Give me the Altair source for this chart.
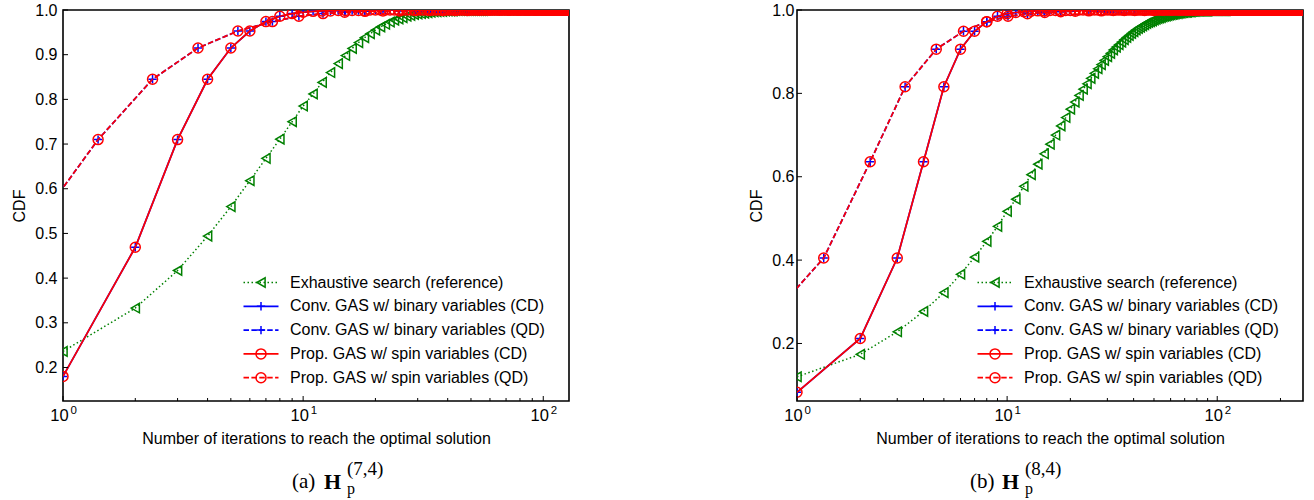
import altair as alt
import pandas as pd

SANS = "Liberation Sans"
SERIF = "Liberation Serif"
GREEN, BLUE, RED = "#008000", "#0000ff", "#ff0000"
PLUS = "M-1,0L1,0M0,-1L0,1"

X_TITLE = "Number of iterations to reach the optimal solution"
LEGEND_LABELS = [
    "Exhaustive search (reference)",
    "Conv. GAS w/ binary variables (CD)",
    "Conv. GAS w/ binary variables (QD)",
    "Prop. GAS w/ spin variables (CD)",
    "Prop. GAS w/ spin variables (QD)",
]

# ---------------- panel (a): 2^7 = 128 candidates ----------------
A_ITER = list(range(1, 129))
A_EXH = [
    0.236, 0.333, 0.417, 0.494, 0.560, 0.618, 0.668, 0.711, 0.750, 0.785, 0.812, 0.838, 0.860, 0.880, 0.898, 0.914,
    0.927, 0.938, 0.947, 0.955, 0.962, 0.968, 0.973, 0.977, 0.980, 0.983, 0.986, 0.988, 0.990, 0.991, 0.992, 0.993,
    0.994, 0.995, 0.996, 0.996, 0.997, 0.997, 0.998, 0.998, 0.998, 0.998, 0.999, 0.999, 0.999, 0.999, 0.999, 0.999,
    0.999, 0.999, 0.999, 0.999, 0.999, 0.999, 0.999, 0.999, 1.0, 1.0, 1.0, 1.0, 1.0, 1.0, 1.0, 1.0,
    1.0, 1.0, 1.0, 1.0, 1.0, 1.0, 1.0, 1.0, 1.0, 1.0, 1.0, 1.0, 1.0, 1.0, 1.0, 1.0,
    1.0, 1.0, 1.0, 1.0, 1.0, 1.0, 1.0, 1.0, 1.0, 1.0, 1.0, 1.0, 1.0, 1.0, 1.0, 1.0,
    1.0, 1.0, 1.0, 1.0, 1.0, 1.0, 1.0, 1.0, 1.0, 1.0, 1.0, 1.0, 1.0, 1.0, 1.0, 1.0,
    1.0, 1.0, 1.0, 1.0, 1.0, 1.0, 1.0, 1.0, 1.0, 1.0, 1.0, 1.0, 1.0, 1.0, 1.0, 1.0,
]
A_CD = [
    0.180, 0.469, 0.710, 0.845, 0.915, 0.953, 0.974, 0.986, 0.992, 0.995, 0.997, 0.998, 0.998, 0.999, 0.999, 0.999,
    0.999, 0.999, 1.0, 1.0, 1.0, 1.0, 1.0, 1.0, 1.0, 1.0, 1.0, 1.0, 1.0, 1.0, 1.0, 1.0,
    1.0, 1.0, 1.0, 1.0, 1.0, 1.0, 1.0, 1.0, 1.0, 1.0, 1.0, 1.0, 1.0, 1.0, 1.0, 1.0,
    1.0, 1.0, 1.0, 1.0, 1.0, 1.0, 1.0, 1.0, 1.0, 1.0, 1.0, 1.0, 1.0, 1.0, 1.0, 1.0,
    1.0, 1.0, 1.0, 1.0, 1.0, 1.0, 1.0, 1.0, 1.0, 1.0, 1.0, 1.0, 1.0, 1.0, 1.0, 1.0,
    1.0, 1.0, 1.0, 1.0, 1.0, 1.0, 1.0, 1.0, 1.0, 1.0, 1.0, 1.0, 1.0, 1.0, 1.0, 1.0,
    1.0, 1.0, 1.0, 1.0, 1.0, 1.0, 1.0, 1.0, 1.0, 1.0, 1.0, 1.0, 1.0, 1.0, 1.0, 1.0,
    1.0, 1.0, 1.0, 1.0, 1.0, 1.0, 1.0, 1.0, 1.0, 1.0, 1.0, 1.0, 1.0, 1.0, 1.0, 1.0,
]
# QD cost of the same success levels (first two points fall left of 10^0)
A_QD_ITER = [
    0.15, 0.66, 1.40, 2.36, 3.65, 5.35, 7.45, 9.6, 12.1, 14.9, 18.1, 21.5, 25.2, 29.3, 33.6,
    38.2, 43.1, 48.4, 53.9, 59.7, 65.8, 72.2, 78.9, 85.9, 93.3, 100.9, 108.8, 117.0, 125.5,
]
A_QD = A_CD[:len(A_QD_ITER)]

# ---------------- panel (b): 2^8 = 256 candidates ----------------
B_ITER = list(range(1, 257))
B_EXH = [
    0.120, 0.174, 0.228, 0.277, 0.322, 0.366, 0.407, 0.445, 0.481, 0.517, 0.546, 0.577, 0.605, 0.630, 0.655, 0.678,
    0.700, 0.722, 0.742, 0.762, 0.779, 0.795, 0.810, 0.823, 0.836, 0.848, 0.859, 0.869, 0.879, 0.888, 0.896, 0.904,
    0.911, 0.917, 0.923, 0.929, 0.934, 0.939, 0.944, 0.948, 0.952, 0.956, 0.959, 0.962, 0.965, 0.968, 0.970, 0.972,
    0.974, 0.976, 0.978, 0.980, 0.981, 0.982, 0.984, 0.985, 0.986, 0.987, 0.988, 0.989, 0.990, 0.990, 0.991, 0.992,
    0.992, 0.993, 0.993, 0.994, 0.994, 0.995, 0.995, 0.995, 0.996, 0.996, 0.996, 0.997, 0.997, 0.997, 0.997, 0.998,
    0.998, 0.998, 0.998, 0.998, 0.998, 0.998, 0.998, 0.998, 0.998, 0.998, 0.999, 0.999, 0.999, 0.999, 0.999, 0.999,
    0.999, 0.999, 0.999, 0.999, 0.999, 0.999, 0.999, 0.999, 0.999, 0.999, 0.999, 0.999, 0.999, 0.999, 1.0, 1.0,
    1.0, 1.0, 1.0, 1.0, 1.0, 1.0, 1.0, 1.0, 1.0, 1.0, 1.0, 1.0, 1.0, 1.0, 1.0, 1.0,
    1.0, 1.0, 1.0, 1.0, 1.0, 1.0, 1.0, 1.0, 1.0, 1.0, 1.0, 1.0, 1.0, 1.0, 1.0, 1.0,
    1.0, 1.0, 1.0, 1.0, 1.0, 1.0, 1.0, 1.0, 1.0, 1.0, 1.0, 1.0, 1.0, 1.0, 1.0, 1.0,
    1.0, 1.0, 1.0, 1.0, 1.0, 1.0, 1.0, 1.0, 1.0, 1.0, 1.0, 1.0, 1.0, 1.0, 1.0, 1.0,
    1.0, 1.0, 1.0, 1.0, 1.0, 1.0, 1.0, 1.0, 1.0, 1.0, 1.0, 1.0, 1.0, 1.0, 1.0, 1.0,
    1.0, 1.0, 1.0, 1.0, 1.0, 1.0, 1.0, 1.0, 1.0, 1.0, 1.0, 1.0, 1.0, 1.0, 1.0, 1.0,
    1.0, 1.0, 1.0, 1.0, 1.0, 1.0, 1.0, 1.0, 1.0, 1.0, 1.0, 1.0, 1.0, 1.0, 1.0, 1.0,
    1.0, 1.0, 1.0, 1.0, 1.0, 1.0, 1.0, 1.0, 1.0, 1.0, 1.0, 1.0, 1.0, 1.0, 1.0, 1.0,
    1.0, 1.0, 1.0, 1.0, 1.0, 1.0, 1.0, 1.0, 1.0, 1.0, 1.0, 1.0, 1.0, 1.0, 1.0, 1.0,
]
B_CD = [
    0.083, 0.212, 0.405, 0.636, 0.816, 0.906, 0.949, 0.972, 0.985, 0.991, 0.994, 0.996, 0.997, 0.998, 0.998, 0.999,
    0.999, 0.999, 0.999, 0.999, 1.0, 1.0, 1.0, 1.0, 1.0, 1.0, 1.0, 1.0, 1.0, 1.0, 1.0, 1.0,
    1.0, 1.0, 1.0, 1.0, 1.0, 1.0, 1.0, 1.0, 1.0, 1.0, 1.0, 1.0, 1.0, 1.0, 1.0, 1.0,
    1.0, 1.0, 1.0, 1.0, 1.0, 1.0, 1.0, 1.0, 1.0, 1.0, 1.0, 1.0, 1.0, 1.0, 1.0, 1.0,
    1.0, 1.0, 1.0, 1.0, 1.0, 1.0, 1.0, 1.0, 1.0, 1.0, 1.0, 1.0, 1.0, 1.0, 1.0, 1.0,
    1.0, 1.0, 1.0, 1.0, 1.0, 1.0, 1.0, 1.0, 1.0, 1.0, 1.0, 1.0, 1.0, 1.0, 1.0, 1.0,
    1.0, 1.0, 1.0, 1.0, 1.0, 1.0, 1.0, 1.0, 1.0, 1.0, 1.0, 1.0, 1.0, 1.0, 1.0, 1.0,
    1.0, 1.0, 1.0, 1.0, 1.0, 1.0, 1.0, 1.0, 1.0, 1.0, 1.0, 1.0, 1.0, 1.0, 1.0, 1.0,
    1.0, 1.0, 1.0, 1.0, 1.0, 1.0, 1.0, 1.0, 1.0, 1.0, 1.0, 1.0, 1.0, 1.0, 1.0, 1.0,
    1.0, 1.0, 1.0, 1.0, 1.0, 1.0, 1.0, 1.0, 1.0, 1.0, 1.0, 1.0, 1.0, 1.0, 1.0, 1.0,
    1.0, 1.0, 1.0, 1.0, 1.0, 1.0, 1.0, 1.0, 1.0, 1.0, 1.0, 1.0, 1.0, 1.0, 1.0, 1.0,
    1.0, 1.0, 1.0, 1.0, 1.0, 1.0, 1.0, 1.0, 1.0, 1.0, 1.0, 1.0, 1.0, 1.0, 1.0, 1.0,
    1.0, 1.0, 1.0, 1.0, 1.0, 1.0, 1.0, 1.0, 1.0, 1.0, 1.0, 1.0, 1.0, 1.0, 1.0, 1.0,
    1.0, 1.0, 1.0, 1.0, 1.0, 1.0, 1.0, 1.0, 1.0, 1.0, 1.0, 1.0, 1.0, 1.0, 1.0, 1.0,
    1.0, 1.0, 1.0, 1.0, 1.0, 1.0, 1.0, 1.0, 1.0, 1.0, 1.0, 1.0, 1.0, 1.0, 1.0, 1.0,
    1.0, 1.0, 1.0, 1.0, 1.0, 1.0, 1.0, 1.0, 1.0, 1.0, 1.0, 1.0, 1.0, 1.0, 1.0, 1.0,
]
B_QD_ITER = [
    0.2, 0.61, 1.34, 2.23, 3.27, 4.6, 6.2, 8.0, 10.1, 12.5, 15.1, 18.0, 21.1, 24.5, 28.1,
    32.0, 36.1, 40.5, 45.1, 50.0, 55.1, 60.5, 66.1, 72.0, 78.1, 84.5, 91.1, 98.0, 105.1, 112.5,
    120.1, 128.0, 136.1, 144.5, 153.1, 162.0, 171.1, 180.5, 190.1, 200.0, 210.1, 220.5, 231.1, 242.0, 253.1,
]
B_QD = B_CD[:len(B_QD_ITER)]

# axis ticks and labels
X_MAJOR = [1, 10, 100]
X_EXP = ["0", "1", "2"]
A_MINOR = [2, 3, 4, 5, 6, 7, 8, 9, 20, 30, 40, 50, 60, 70, 80, 90]
B_MINOR = [2, 3, 4, 5, 6, 7, 8, 9, 20, 30, 40, 50, 60, 70, 80, 90, 200]
A_YTICKS = [0.2, 0.3, 0.4, 0.5, 0.6, 0.7, 0.8, 0.9, 1.0]
B_YTICKS = [0.2, 0.4, 0.6, 0.8, 1.0]

# line colour, dash pattern, marker, marker size and line width per series (legend order)
STYLES = [
    (GREEN, [1.5, 2.5], "triangle-left", 90, 1.5),
    (BLUE, None, PLUS, 70, 1.7),
    (BLUE, [5.5, 2.4], PLUS, 70, 1.7),
    (RED, None, "circle", 100, 1.7),
    (RED, [5.5, 2.4], "circle", 100, 1.7),
]

W, H = 506, 391


def one(value, name="t"):
    return alt.Chart(pd.DataFrame({name: [value]}))


def panel(iters, exh, cd, qd_iter, qd, xmax, ymin, yticks, minor, tag, sup, ylab_pad):
    xs = alt.Scale(type="log", domain=[1, xmax], nice=False)
    ys = alt.Scale(domain=[ymin, 1.0], nice=False, zero=False)
    # identical axis definitions on every layer so that they merge cleanly
    xa = alt.Axis(labels=False, ticks=False, domain=False, grid=False,
                  title=X_TITLE, titleFont=SANS, titleFontSize=16,
                  titleFontWeight="normal", titleColor="black", titlePadding=29)
    ya = alt.Axis(values=yticks, format=".1f", ticks=False, domain=False, grid=False,
                  labelFont=SANS, labelFontSize=16, labelColor="black",
                  labelPadding=ylab_pad, title="CDF", titleFont=SANS,
                  titleFontSize=16, titleFontWeight="normal", titleColor="black",
                  titlePadding=7)

    def X(field):
        return alt.X(field, scale=xs, axis=xa, title=X_TITLE)

    def Y(field):
        return alt.Y(field, scale=ys, axis=ya, title="CDF")

    frames = [
        pd.DataFrame({"iter": iters, "cdf": exh}),
        pd.DataFrame({"iter": iters, "cdf": cd}),
        pd.DataFrame({"iter": qd_iter, "cdf": qd}),
        pd.DataFrame({"iter": iters, "cdf": cd}),
        pd.DataFrame({"iter": qd_iter, "cdf": qd}),
    ]

    layers = []
    for df, (color, dash, shape, size, lw) in zip(frames, STYLES):
        kw = dict(color=color, strokeWidth=lw, clip=True)
        if dash:
            kw["strokeDash"] = dash
        enc = dict(x=X("iter:Q"), y=Y("cdf:Q"))
        layers.append(alt.Chart(df).mark_line(**kw).encode(**enc))
        layers.append(alt.Chart(df).mark_point(shape=shape, size=size, color=color, filled=False,
                                               strokeWidth=1.5, opacity=1, clip=True).encode(**enc))

    # inward ticks
    layers.append(alt.Chart(pd.DataFrame({"v": X_MAJOR})).mark_rule(color="black", strokeWidth=1).encode(
        x=X("v:Q"), y=alt.value(H), y2=alt.value(H - 5)))
    layers.append(alt.Chart(pd.DataFrame({"v": minor})).mark_rule(color="black", strokeWidth=1).encode(
        x=X("v:Q"), y=alt.value(H), y2=alt.value(H - 3)))
    layers.append(alt.Chart(pd.DataFrame({"v": yticks})).mark_rule(color="black", strokeWidth=1).encode(
        y=Y("v:Q"), x=alt.value(0), x2=alt.value(5)))

    # decade labels 10^k
    dec = pd.DataFrame({"v": X_MAJOR, "e": X_EXP})
    layers.append(alt.Chart(dec).mark_text(text="10", font=SANS, fontSize=16.5, align="center",
                                           baseline="alphabetic", dx=-3.5, color="black").encode(
        x=X("v:Q"), y=alt.value(H + 20)))
    layers.append(alt.Chart(dec).mark_text(font=SANS, fontSize=11.5, align="left",
                                           baseline="alphabetic", dx=7.5, color="black").encode(
        x=X("v:Q"), y=alt.value(H + 13), text="e:N"))

    # legend
    for i, (label, (color, dash, shape, size, lw)) in enumerate(zip(LEGEND_LABELS, STYLES)):
        yy = 272.5 + 23.8 * i
        kw = dict(color=color, strokeWidth=lw)
        if dash:
            kw["strokeDash"] = dash
        layers.append(one(label).mark_rule(**kw).encode(
            x=alt.value(180.5), x2=alt.value(215.5), y=alt.value(yy)))
        layers.append(one(label).mark_point(shape=shape, size=size, color=color, filled=False,
                                            strokeWidth=1.5, opacity=1).encode(
            x=alt.value(198), y=alt.value(yy)))
        layers.append(one(label).mark_text(font=SANS, fontSize=16, align="left", baseline="middle",
                                           color="black").encode(
            x=alt.value(227), y=alt.value(yy), text="t:N"))

    # sub-figure caption
    cx = 229 if tag == "(a)" else 173
    layers.append(one(tag).mark_text(font=SERIF, fontSize=21, align="left", baseline="alphabetic",
                                     color="black").encode(x=alt.value(cx), y=alt.value(H + 87), text="t:N"))
    layers.append(one("H").mark_text(font=SERIF, fontSize=22, fontWeight="bold", align="left",
                                     baseline="alphabetic", color="black").encode(
        x=alt.value(cx + 32), y=alt.value(H + 88), text="t:N"))
    layers.append(one(sup).mark_text(font=SERIF, fontSize=19, align="left", baseline="alphabetic",
                                     color="black").encode(x=alt.value(cx + 55), y=alt.value(H + 74), text="t:N"))
    layers.append(one("p").mark_text(font=SERIF, fontSize=16, align="left", baseline="alphabetic",
                                     color="black").encode(x=alt.value(cx + 55), y=alt.value(H + 93), text="t:N"))

    return alt.layer(*layers).properties(width=W, height=H)


left = panel(A_ITER, A_EXH, A_CD, A_QD_ITER, A_QD, 128, 0.125, A_YTICKS, A_MINOR, "(a)", "(7,4)", 6)
right = panel(B_ITER, B_EXH, B_CD, B_QD_ITER, B_QD, 256, 0.062, B_YTICKS, B_MINOR, "(b)", "(8,4)", 3)

chart = alt.hconcat(left, right, spacing=177).properties(
    padding={"left": 10, "top": 1, "right": 5, "bottom": 2},
    background="white",
).configure_view(stroke="black", strokeWidth=1.6)

chart.save("out.html", embed_options={"renderer": "svg", "actions": False})
